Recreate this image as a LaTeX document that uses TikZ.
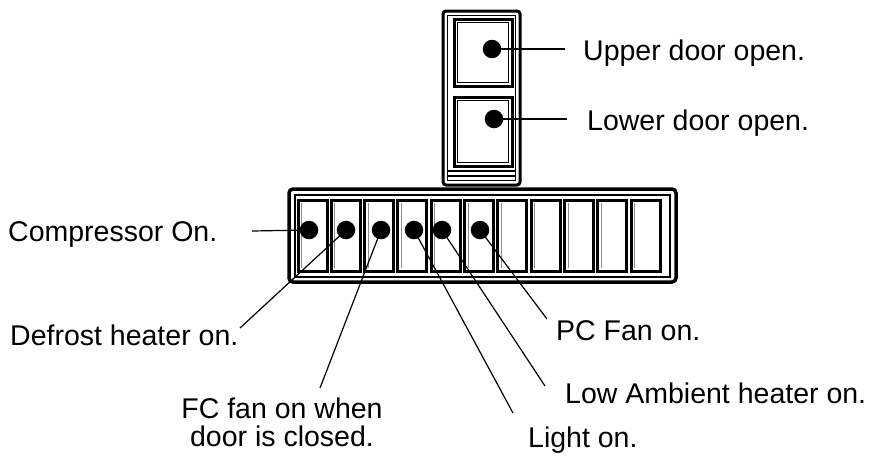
\documentclass[tikz,border=0pt]{standalone}
\usepackage{fontspec}
\setmainfont{Liberation Sans}
\begin{document}
\begin{tikzpicture}[x=1pt,y=-1pt,
  dot/.style={circle,fill=black,minimum size=18.5pt,inner sep=0pt},
  lbl/.style={font=\fontsize{28.5}{30}\selectfont,inner sep=0pt},
  lead/.style={line width=1.2pt},
  heavy/.style={line width=3pt},
  thin/.style={line width=0.9pt},
  cell/.style={line width=3pt},
  cellin/.style={line width=0.7pt,black!45},
]
\useasboundingbox (0,0) rectangle (875,456);
% upper panel
\draw[heavy,rounded corners=3pt] (443,11) rectangle (520,185);
\draw[thin] (447.5,15.5) rectangle (515.5,180.5);
\draw[heavy] (454,19) rectangle (512,86);
\draw[thin] (457.5,22.5) rectangle (508.5,82.5);
\draw[heavy] (454,97) rectangle (512,166);
\draw[thin] (457.5,100.5) rectangle (508.5,162.5);
\draw[line width=1.6pt] (447.5,171) -- (515.5,171);
\draw[line width=1.2pt] (447.5,176) -- (515.5,176);
% lower panel
\draw[line width=3.5pt,rounded corners=4pt] (289,189) rectangle (676,282);
\draw[line width=1.2pt] (295,195) rectangle (670,277);
\foreach \i in {0,...,10}{
  \draw[cell] ({298+33.3*\i},200) rectangle ({327+33.3*\i},271);
  \draw[cellin] ({301.5+33.3*\i},203) -- ({301.5+33.3*\i},268);
}
% dots
\node[dot] (u1) at (492,49) {};
\node[dot] (u2) at (494,119) {};
\node[dot] (d1) at (309,230) {};
\node[dot] (d2) at (346,230) {};
\node[dot] (d3) at (381,230) {};
\node[dot] (d4) at (414,230) {};
\node[dot] (d5) at (442,230) {};
\node[dot] (d6) at (480,230) {};
% lead ends
\coordinate (eu1) at (565,49);
\coordinate (eu2) at (567,119);
\coordinate (e1) at (252,231);
\coordinate (e2) at (240,328);
\coordinate (e3) at (320,388);
\coordinate (e4) at (513,413);
\coordinate (e5) at (545,386);
\coordinate (e6) at (547,319);
\draw[lead] (u1.center) -- (eu1);
\draw[lead] (u2.center) -- (eu2);
\draw[lead] (d1.center) -- (e1);
\draw[lead] (d2.center) -- (e2);
\draw[lead] (d3.center) -- (e3);
\draw[lead] (d4.center) -- (e4);
\draw[lead] (d5.center) -- (e5);
\draw[lead] (d6.center) -- (e6);
% labels
\node[lbl,anchor=base west] (tu1) at (583,60) {Upper door open.};
\node[lbl,anchor=base west] (tu2) at (587,130) {Lower door open.};
\node[lbl,anchor=base west] (t1) at (8,241) {Compressor On.};
\node[lbl,anchor=base west] (t2) at (10,345) {Defrost heater on.};
\node[lbl,anchor=base] (t3a) at (282,418) {FC fan on when};
\node[lbl,anchor=base] (t3b) at (282,446) {door is closed.};
\node[lbl,anchor=base west] (t4) at (528,447) {Light on.};
\node[lbl,anchor=base west] (t5) at (565,403) {Low Ambient heater on.};
\node[lbl,anchor=base west] (t6) at (556,340) {PC Fan on.};
\end{tikzpicture}
\end{document}
